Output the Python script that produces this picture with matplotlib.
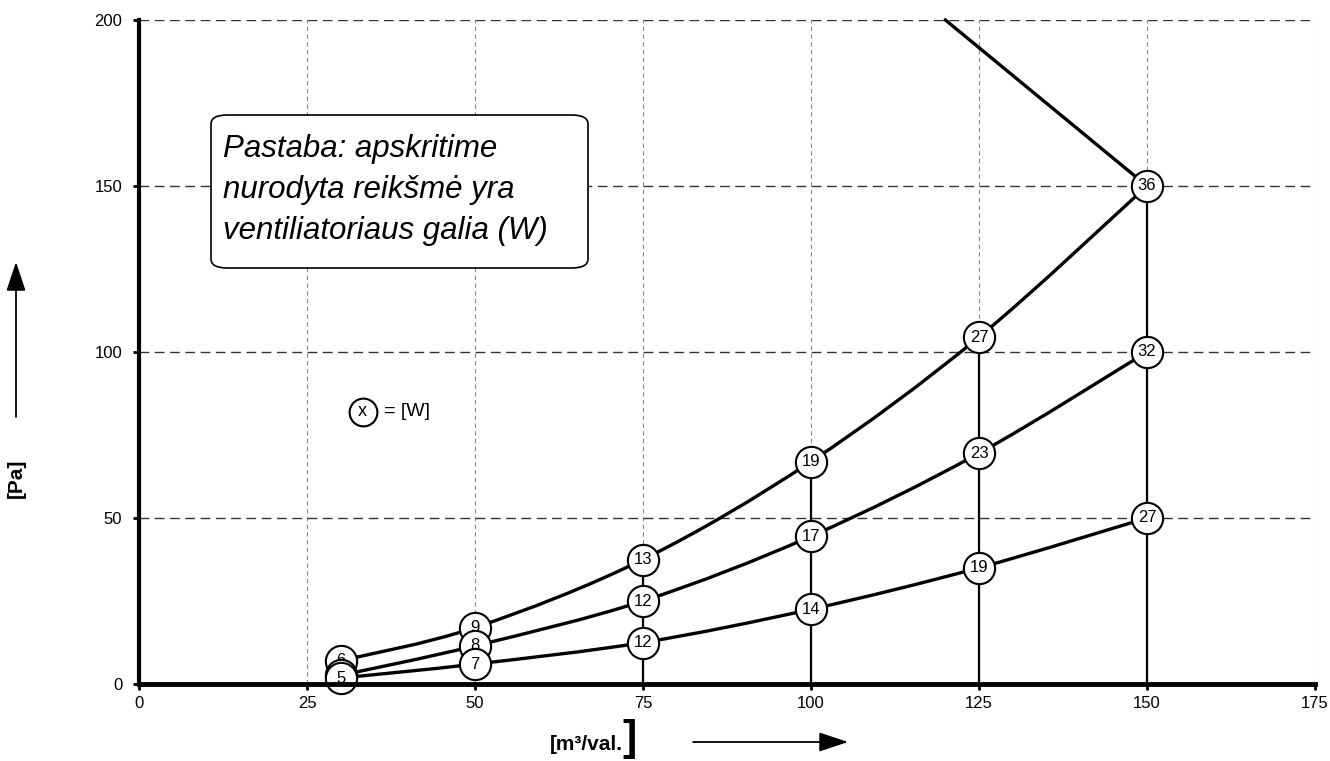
import matplotlib
matplotlib.use("Agg")
import matplotlib.pyplot as plt
import numpy as np
from matplotlib.path import Path
from matplotlib.patches import PathPatch, FancyBboxPatch, FancyArrowPatch

flow = [30, 50, 75, 100, 125, 150]
p_high = [7, 17, 37.5, 67, 104.5, 150]
p_mid = [2.6, 11.5, 25, 44.5, 69.5, 100]
p_low = [1.8, 6, 12.5, 22.5, 35, 50]
w_high = ["6", "9", "13", "19", "27", "36"]
w_mid = ["", "8", "12", "17", "23", "32"]   # first label is hidden under circles
w_low = ["5", "7", "12", "14", "19", "27"]
limit_x = [120, 150]
limit_y = [200, 150]
vert_x = [75, 100, 125, 150]
vert_top = [37.5, 67, 104.5, 150]
xticks = [0, 25, 50, 75, 100, 125, 150, 175]
yticks = [0, 50, 100, 150, 200]

plt.rcParams['font.family'] = ['Liberation Sans', 'DejaVu Sans']

fig = plt.figure(figsize=(13.3, 7.61), dpi=100)
ax = fig.add_axes([139/1330, 1-684/761, (1315-139)/1330, (684-20)/761])
ax.set_xlim(0, 175)
ax.set_ylim(0, 200)

# grid
for x in xticks[1:]:
    ax.axvline(x, color='#888888', lw=0.8, ls=(0, (4, 3)), zorder=1)
for y in yticks[1:]:
    ax.axhline(y, color='#333333', lw=1.0, ls=(0, (7, 4)), zorder=1)

for x, t in zip(vert_x, vert_top):
    ax.plot([x, x], [0, t], color='black', lw=1.6, zorder=2)

ax.plot(limit_x, limit_y, color='black', lw=2.4, zorder=2, clip_on=False)

def smooth_path(xs, ys):
    xs = np.asarray(xs, float); ys = np.asarray(ys, float)
    n = len(xs)
    verts = [(xs[0], ys[0])]
    codes = [Path.MOVETO]
    for i in range(n - 1):
        x0, y0 = (xs[i-1], ys[i-1]) if i > 0 else (xs[i], ys[i])
        x1, y1 = xs[i], ys[i]
        x2, y2 = xs[i+1], ys[i+1]
        x3, y3 = (xs[i+2], ys[i+2]) if i + 2 < n else (xs[i+1], ys[i+1])
        c1 = (x1 + (x2 - x0) / 6, y1 + (y2 - y0) / 6)
        c2 = (x2 - (x3 - x1) / 6, y2 - (y3 - y1) / 6)
        verts += [c1, c2, (x2, y2)]
        codes += [Path.CURVE4] * 3
    return Path(verts, codes)

series = [(p_high, w_high), (p_mid, w_mid), (p_low, w_low)]
for k, (ys, ws) in enumerate(series):
    ax.add_patch(PathPatch(smooth_path(flow, ys), fill=False, lw=2.4,
                           edgecolor='black', zorder=3 + 2 * k, clip_on=False))
    ax.plot(flow, ys, ls='none', marker='o', ms=22.5, mfc='white', mec='black',
            mew=1.5, zorder=4 + 2 * k, clip_on=False)
    for x, y, w in zip(flow, ys, ws):
        if w:
            ax.text(x, y, w, ha='center', va='center', fontsize=12,
                    zorder=4 + 2 * k, clip_on=False)

# note box
box = FancyBboxPatch((211/1330, 1-268/761), (588-211)/1330, (268-115)/761,
                     boxstyle="round,pad=0,rounding_size=0.012",
                     transform=fig.transFigure, fc='white', ec='black', lw=1.2,
                     zorder=10)
fig.patches.append(box)
fig.text(223/1330, 1-190/761,
         "Pastaba: apskritime\nnurodyta reikšmė yra\nventiliatoriaus galia (W)",
         fontsize=22.5, style='italic', va='center', ha='left',
         linespacing=1.48, zorder=11)

# legend symbol
ax.plot([33.3], [82], marker='o', ms=20, mfc='white', mec='black', mew=1.5,
        ls='none', zorder=5)
ax.text(33.3, 82, "x", ha='center', va='center', fontsize=13, zorder=6)
ax.text(36.4, 82, "= [W]", ha='left', va='center', fontsize=14, zorder=6)

ax.set_xticks(xticks)
ax.set_yticks(yticks)
ax.tick_params(axis='both', labelsize=12, length=4, width=2, color='black',
               direction='out')
ax.tick_params(axis='x', pad=5)
ax.tick_params(axis='y', pad=8)
for s in ['top', 'right']:
    ax.spines[s].set_visible(False)
ax.spines['left'].set_linewidth(3)
ax.spines['bottom'].set_linewidth(3.5)
ax.spines['left'].set_zorder(12)
ax.spines['bottom'].set_zorder(12)

# axis labels
fig.text(16/1330, 1-478/761, "[Pa]", rotation=90, fontsize=15,
         fontweight='bold', ha='center', va='center')
fig.patches.append(FancyArrowPatch(
    (16/1330, 1-417/761), (16/1330, 1-262/761), transform=fig.transFigure,
    arrowstyle='-|>,head_length=0.9,head_width=0.3', mutation_scale=20,
    color='black', lw=1.3, shrinkA=0, shrinkB=0))
fig.text(623/1330, 1-745/761, "[m³/val.", fontsize=15, fontweight='bold',
         ha='right', va='center')
fig.text(622/1330, 1-739/761, "]", fontsize=31, fontweight='bold',
         ha='left', va='center')
fig.patches.append(FancyArrowPatch(
    (693/1330, 1-742/761), (848/1330, 1-742/761), transform=fig.transFigure,
    arrowstyle='-|>,head_length=0.9,head_width=0.3', mutation_scale=20,
    color='black', lw=1.3, shrinkA=0, shrinkB=0))

fig.savefig("out.png", dpi=100)
